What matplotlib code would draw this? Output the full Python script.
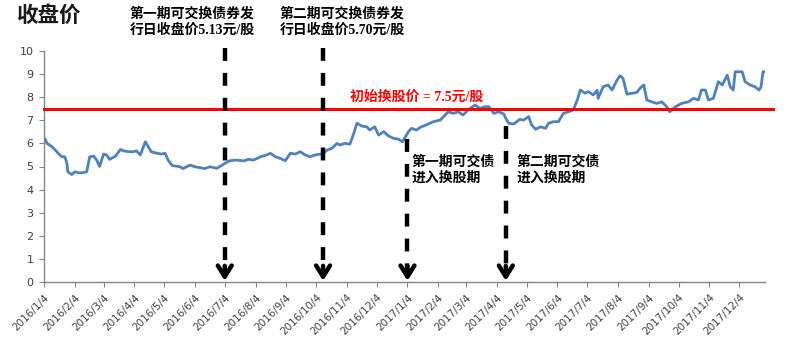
import matplotlib
matplotlib.use("Agg")
import matplotlib.pyplot as plt
import matplotlib.dates as mdates
from matplotlib.ticker import FuncFormatter, MultipleLocator
import pandas as pd

plt.rcParams['font.family'] = ['Noto Sans CJK SC', 'DejaVu Sans']

# closing price
trade_dates = [
    "2016-01-04", "2016-01-05", "2016-01-07", "2016-01-12", "2016-01-17", "2016-01-18",
    "2016-01-22", "2016-01-25", "2016-01-27", "2016-01-28", "2016-02-01", "2016-02-04",
    "2016-02-09", "2016-02-13", "2016-02-16", "2016-02-19", "2016-02-23", "2016-02-26",
    "2016-02-29", "2016-03-04", "2016-03-07", "2016-03-10", "2016-03-16", "2016-03-21",
    "2016-03-24", "2016-03-29", "2016-04-03", "2016-04-06", "2016-04-10", "2016-04-15",
    "2016-04-18", "2016-04-21", "2016-04-27", "2016-05-01", "2016-05-05", "2016-05-08",
    "2016-05-12", "2016-05-20", "2016-05-23", "2016-05-30", "2016-06-04", "2016-06-14",
    "2016-06-19", "2016-06-26", "2016-07-04", "2016-07-09", "2016-07-16", "2016-07-23",
    "2016-07-28", "2016-08-02", "2016-08-09", "2016-08-15", "2016-08-19", "2016-08-24",
    "2016-08-29", "2016-09-03", "2016-09-08", "2016-09-13", "2016-09-18", "2016-09-23",
    "2016-09-28", "2016-10-03", "2016-10-11", "2016-10-15", "2016-10-20", "2016-10-25",
    "2016-10-28", "2016-11-02", "2016-11-07", "2016-11-11", "2016-11-14", "2016-11-19",
    "2016-11-24", "2016-11-27", "2016-12-02", "2016-12-06", "2016-12-11", "2016-12-16",
    "2016-12-21", "2016-12-26", "2016-12-30",
    "2017-01-05", "2017-01-08", "2017-01-13", "2017-01-18", "2017-01-23", "2017-01-30",
    "2017-02-06", "2017-02-11", "2017-02-14", "2017-02-19", "2017-02-24", "2017-03-01",
    "2017-03-06", "2017-03-13", "2017-03-18", "2017-03-23", "2017-03-27", "2017-04-01",
    "2017-04-06", "2017-04-11", "2017-04-13", "2017-04-16", "2017-04-21", "2017-04-24",
    "2017-04-27", "2017-05-01", "2017-05-06", "2017-05-09", "2017-05-13", "2017-05-18",
    "2017-05-23", "2017-05-26", "2017-05-31", "2017-06-05", "2017-06-10", "2017-06-15",
    "2017-06-20", "2017-06-24", "2017-06-27", "2017-07-02", "2017-07-05", "2017-07-10",
    "2017-07-14", "2017-07-15", "2017-07-20", "2017-07-25", "2017-07-29", "2017-08-03",
    "2017-08-06", "2017-08-09", "2017-08-13", "2017-08-18", "2017-08-23", "2017-08-26",
    "2017-08-30", "2017-09-02", "2017-09-07", "2017-09-12", "2017-09-17", "2017-09-22",
    "2017-09-25", "2017-10-01", "2017-10-07", "2017-10-14", "2017-10-19", "2017-10-24",
    "2017-10-27", "2017-10-31", "2017-11-03", "2017-11-08", "2017-11-13", "2017-11-17",
    "2017-11-22", "2017-11-25", "2017-11-28", "2017-11-30", "2017-12-07", "2017-12-10",
    "2017-12-15", "2017-12-20", "2017-12-24", "2017-12-26", "2017-12-28", "2017-12-29",
]
close_price = [
    6.05, 6.20, 6.00, 5.86, 5.64, 5.58,
    5.42, 5.42, 5.15, 4.77, 4.65, 4.77,
    4.72, 4.74, 4.77, 5.42, 5.45, 5.28,
    5.00, 5.54, 5.50, 5.31, 5.45, 5.74,
    5.68, 5.64, 5.64, 5.68, 5.50, 6.07,
    5.86, 5.64, 5.57, 5.54, 5.57, 5.28,
    5.04, 4.99, 4.91, 5.06, 4.99, 4.91,
    4.99, 4.92, 5.13, 5.25, 5.28, 5.24,
    5.31, 5.28, 5.42, 5.50, 5.57, 5.42,
    5.35, 5.25, 5.57, 5.54, 5.64, 5.50,
    5.42, 5.50, 5.56, 5.71, 5.79, 6.00,
    5.93, 6.00, 5.97, 6.44, 6.87, 6.75,
    6.72, 6.58, 6.72, 6.36, 6.51, 6.32,
    6.22, 6.18, 6.07,
    6.51, 6.65, 6.58, 6.72, 6.80, 6.94,
    7.01, 7.23, 7.37, 7.30, 7.37, 7.23,
    7.45, 7.66, 7.52, 7.59, 7.59, 7.30,
    7.37, 7.27, 7.08, 6.87, 6.84, 6.94,
    7.04, 7.01, 7.16, 6.80, 6.61, 6.72,
    6.65, 6.87, 6.94, 6.94, 7.30, 7.37,
    7.45, 7.88, 8.31, 8.17, 8.24, 8.10,
    8.30, 7.95, 8.45, 8.53, 8.31, 8.74,
    8.93, 8.82, 8.13, 8.17, 8.21, 8.38,
    8.53, 7.88, 7.80, 7.73, 7.80, 7.59,
    7.37, 7.59, 7.73, 7.80, 7.95, 7.88,
    8.31, 8.31, 7.88, 7.95, 8.67, 8.53,
    8.96, 8.45, 8.31, 9.10, 9.10, 8.67,
    8.53, 8.45, 8.31, 8.45, 9.10, 9.10,
]

# initial conversion price line
conv_price = 7.5
conv_dates = ["2016-01-04", "2018-01-07"]

# event arrows: date and where the dashed shaft starts
event_dates = ["2016-07-04", "2016-10-11", "2017-01-04", "2017-04-13"]
event_tops = [10.15, 10.15, 6.2, 6.75]

dates = pd.to_datetime(trade_dates)

fig = plt.figure(figsize=(7.93, 3.53), dpi=100)
ax = fig.add_axes([44 / 793, 1 - 282 / 353, (765 - 44) / 793, (282 - 51) / 353])

ax.plot(dates, close_price, color='#4F81BD', lw=2, zorder=2)
ax.plot(pd.to_datetime(conv_dates), [conv_price, conv_price], color='#FF0000',
        lw=2.2, zorder=3, clip_on=False)

for d, top in zip(pd.to_datetime(event_dates), event_tops):
    ax.plot([d, d], [top, 0.55], color='black', lw=3.2, ls=(0, (2.9, 2.7)),
            solid_capstyle='butt', dash_capstyle='butt', zorder=4, clip_on=False)
    ax.annotate('', xy=(d, 0.05), xytext=(d, 0.7),
                arrowprops=dict(arrowstyle='->,head_length=0.8,head_width=0.5',
                                lw=3.2, color='black', shrinkA=0, shrinkB=0),
                zorder=5, annotation_clip=False)

ax.set_xlim(pd.Timestamp("2016-01-04"), pd.Timestamp("2017-12-30"))
ax.set_ylim(0, 10)
ax.yaxis.set_major_locator(MultipleLocator(1))
ax.xaxis.set_major_locator(mdates.MonthLocator(bymonthday=4))
ax.xaxis.set_major_formatter(FuncFormatter(
    lambda v, pos: "{0.year}/{0.month}/{0.day}".format(mdates.num2date(v))))

for s in ['top', 'right']:
    ax.spines[s].set_visible(False)
for s in ['left', 'bottom']:
    ax.spines[s].set_color('#868686')
    ax.spines[s].set_linewidth(1)
ax.tick_params(direction='out', length=3.5, width=0.8, color='#868686', pad=4)
for lab in ax.get_yticklabels():
    lab.set_fontfamily('DejaVu Sans')
    lab.set_fontsize(8)
    lab.set_color('#404040')
for lab in ax.get_xticklabels():
    lab.set_fontfamily('DejaVu Sans')
    lab.set_fontsize(7.5)
    lab.set_color('#404040')
    lab.set_rotation(45)
    lab.set_ha('right')
    lab.set_va('top')
    lab.set_rotation_mode('anchor')

fig.text(17 / 793, 1 - 5 / 353, '收盘价', fontsize=15.5, fontweight='bold',
         va='top', ha='left', color='#1a1a1a')

txt_font = ['Liberation Serif', 'Noto Sans CJK SC']
ax.text(pd.Timestamp("2016-03-30"), 11.9, '第一期可交换债券发\n行日收盘价5.13元/股',
        fontsize=10, fontweight='bold', family=txt_font, va='top', ha='left',
        linespacing=1.25, clip_on=False)
ax.text(pd.Timestamp("2016-08-28"), 11.9, '第二期可交换债券发\n行日收盘价5.70元/股',
        fontsize=10, fontweight='bold', family=txt_font, va='top', ha='left',
        linespacing=1.25, clip_on=False)
ax.text(pd.Timestamp("2016-11-07"), 8.0, '初始换股价 = 7.5元/股', color='#FF0000',
        fontsize=10, fontweight='bold', family=txt_font, va='center', ha='left')
ax.text(pd.Timestamp("2017-01-08"), 5.5, '第一期可交债\n进入换股期',
        fontsize=10, fontweight='bold', family=txt_font, va='top', ha='left',
        linespacing=1.25)
ax.text(pd.Timestamp("2017-04-24"), 5.5, '第二期可交债\n进入换股期',
        fontsize=10, fontweight='bold', family=txt_font, va='top', ha='left',
        linespacing=1.25)

fig.savefig('out.png', dpi=100)
